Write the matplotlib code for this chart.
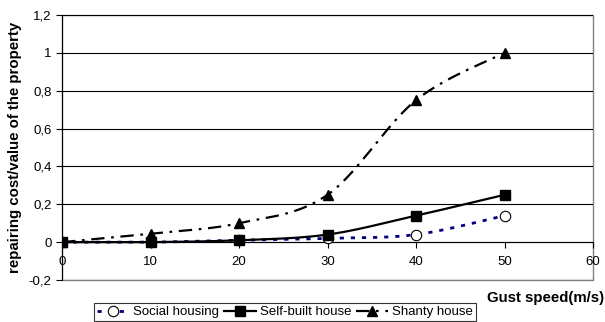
import numpy as np
import matplotlib.pyplot as plt
from matplotlib.patches import Rectangle
from matplotlib.ticker import FuncFormatter

plt.rcParams['font.family'] = ['Liberation Sans', 'DejaVu Sans']

# Velocidad de rafaga (m/s) y coste de reparacion relativo
gust_speed = [0, 10, 20, 30, 40, 50]
social_housing = [0, 0, 0.01, 0.02, 0.04, 0.14]
self_built_house = [0, 0, 0.01, 0.04, 0.14, 0.25]
shanty_house = [0, 0.045, 0.10, 0.25, 0.75, 1.0]

x_ticks = [0, 10, 20, 30, 40, 50, 60]
y_ticks = [-0.2, 0, 0.2, 0.4, 0.6, 0.8, 1.0, 1.2]


def suavizar(x, y, n=30):
    # Curva de Bezier tipo Catmull-Rom (lineas suavizadas de Excel)
    p = np.column_stack([x, y]).astype(float)
    p_ext = np.vstack([p[0], p, p[-1]])
    puntos = []
    t = np.linspace(0, 1, n)[:, None]
    for i in range(len(p) - 1):
        p0, p1, p2, p3 = p_ext[i], p_ext[i + 1], p_ext[i + 2], p_ext[i + 3]
        b1 = p1 + (p2 - p0) / 6
        b2 = p2 - (p3 - p1) / 6
        seg = ((1 - t) ** 3) * p1 + 3 * ((1 - t) ** 2) * t * b1 + 3 * (1 - t) * t ** 2 * b2 + t ** 3 * p2
        puntos.append(seg if i == 0 else seg[1:])
    seg = np.vstack(puntos)
    return seg[:, 0], seg[:, 1]


fig = plt.figure(figsize=(6.05, 3.22), dpi=100)
ax = fig.add_axes([62 / 605, 42 / 322, 531 / 605, 265 / 322])

series = [
    ('Social housing', social_housing, dict(color='#000080', linestyle=(0, (1.5, 2.5)), linewidth=2),
     dict(marker='o', markerfacecolor='white', markeredgecolor='black', markersize=7.5, markeredgewidth=0.8)),
    ('Self-built house', self_built_house, dict(color='black', linestyle='-', linewidth=1.6),
     dict(marker='s', markerfacecolor='black', markeredgecolor='black', markersize=7.5)),
    ('Shanty house', shanty_house, dict(color='black', linestyle=(0, (6, 3, 1.2, 3)), linewidth=1.6),
     dict(marker='^', markerfacecolor='black', markeredgecolor='black', markersize=7.5)),
]

handles = []
for nombre, valores, estilo_linea, estilo_marca in series:
    xs, ys = suavizar(gust_speed, valores)
    ax.plot(xs, ys, zorder=3, **estilo_linea)
    ax.plot(gust_speed, valores, linestyle='none', zorder=4, **estilo_marca)
    h, = ax.plot([], [], label=nombre, **estilo_linea, **estilo_marca)
    handles.append(h)

ax.set_xlim(0, 60)
ax.set_ylim(-0.2, 1.2)
ax.set_xticks(x_ticks)
ax.set_yticks(y_ticks)
ax.yaxis.set_major_formatter(FuncFormatter(lambda v, pos: ('%g' % round(v, 1)).replace('.', ',')))
ax.grid(axis='y', color='black', linewidth=0.8)
ax.set_axisbelow(True)

for lado in ['top', 'right']:
    ax.spines[lado].set_visible(False)
ax.spines['bottom'].set_position(('data', 0))
ax.spines['bottom'].set_linewidth(0.8)
ax.spines['left'].set_linewidth(0.8)
ax.add_patch(Rectangle((0, 0), 1, 1, transform=ax.transAxes, fill=False,
                       edgecolor='#808080', linewidth=1, clip_on=False, zorder=0))

ax.tick_params(axis='both', direction='out', length=4, width=0.8, labelsize=9.5, colors='black')
ax.tick_params(axis='x', pad=6)

ax.set_ylabel('repairing cost/value of the property', fontsize=10.8, fontweight='bold', labelpad=5)
fig.text(0.999, (322 - 298) / 322, 'Gust speed(m/s)', ha='right', va='center',
         fontsize=10.8, fontweight='bold')

leg = fig.legend(handles=handles, loc='center', bbox_to_anchor=(285 / 605, (322 - 312) / 322),
                 ncol=3, fontsize=9.5, frameon=True, fancybox=False, edgecolor='black',
                 handlelength=2.4, handletextpad=0.3, columnspacing=0.4, borderpad=0.2)
leg.get_frame().set_linewidth(0.8)

fig.savefig('out.png', dpi=100)
plt.close(fig)
